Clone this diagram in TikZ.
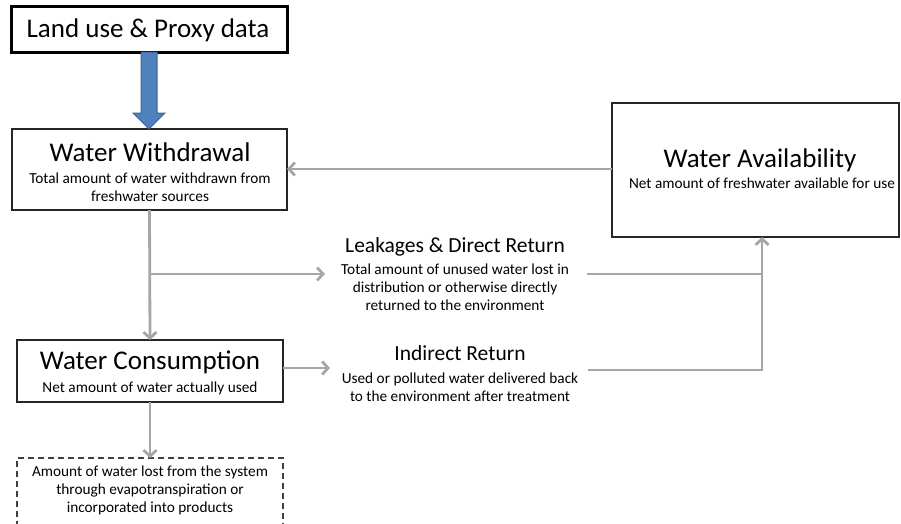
\documentclass[tikz,border=0pt]{standalone}
\usepackage{fontspec}
\setmainfont{Carlito}
\usetikzlibrary{arrows.meta,calc}
\definecolor{flow}{HTML}{A6A6A6}
\definecolor{blu}{HTML}{4F81BD}
\definecolor{bluedge}{HTML}{3A6596}
\newcommand{\ttlfont}{\fontsize{27}{32}\selectfont}
\newcommand{\midfont}{\fontsize{21.5}{26}\selectfont}
\newcommand{\smlfont}{\fontsize{15.3}{18}\selectfont}
\begin{document}
\begin{tikzpicture}[x=1pt,y=-1pt,
  box/.style={draw=black!85, line width=1.5pt, fill=white, inner sep=0pt, outer sep=0pt, anchor=north west},
  heavybox/.style={box, line width=3pt, draw=black},
  dashbox/.style={box, dash pattern=on 6pt off 4pt, line width=1.3pt, draw=black!75},
  ttl/.style={font=\ttlfont, inner sep=0pt},
  mid/.style={font=\midfont, inner sep=0pt},
  sml/.style={font=\smlfont, align=center, inner sep=0pt},
  flowline/.style={draw=flow, line width=2.8pt},
  flowarrow/.style={flowline, -{Straight Barb[length=6pt,width=13pt]}}
]
\useasboundingbox (0,0) rectangle (901,523);
\begin{scope}
\clip (0,0) rectangle (901,523);
% boxes
\node[heavybox, minimum width=276pt, minimum height=46pt] (land) at (11,6) {};
\node[box, minimum width=275pt, minimum height=81pt] (ww) at (12,129) {};
\node[box, minimum width=287pt, minimum height=134pt] (wa) at (612,103) {};
\node[box, minimum width=266pt, minimum height=62pt] (wc) at (17,340) {};
\node[dashbox, minimum width=266pt, minimum height=75pt] (lost) at (17,458) {};
\end{scope}
% texts
\node[ttl] (landT) at (148,30) {Land use \& Proxy data};
\node[ttl] (wwT) at (150,152) {Water Withdrawal};
\node[sml] (wwS) at (150,187) {Total amount of water withdrawn from\\freshwater sources};
\node[ttl] (waT) at (760,160) {Water Availability};
\node[sml] (waS) at (762,183) {Net amount of freshwater available for use};
\node[mid] (lkT) at (455,247) {Leakages \& Direct Return};
\node[sml] (lkS) at (455,287) {Total amount of unused water lost in\\distribution or otherwise directly\\returned to the environment};
\node[ttl] (wcT) at (150,362) {Water Consumption};
\node[sml] (wcS) at (150,388) {Net amount of water actually used};
\node[mid] (irT) at (460,353) {Indirect Return};
\node[sml] (irS) at (460,387) {Used or polluted water delivered back\\to the environment after treatment};
\node[sml] (lostS) at (150,490) {Amount of water lost from the system\\through evapotranspiration or\\incorporated into products};
% blue arrow
\coordinate (bA) at (land.south);
\filldraw[fill=blu, draw=bluedge, line width=1pt]
  ($(bA)+(-8,0)$) -- ($(bA)+(8,0)$) -- ($(bA)+(8,61)$) -- ($(bA)+(16,61)$)
  -- ($(bA)+(0,77)$) -- ($(bA)+(-16,61)$) -- ($(bA)+(-8,61)$) -- cycle;
% flows
\coordinate (waIn) at (wa.west |- 0,169);
\coordinate (wwIn) at (ww.east |- 0,169);
\draw[flowarrow] (waIn) -- (wwIn);
\coordinate (split) at (150,274);
\coordinate (lkIn) at (325,274);
\coordinate (lkOut) at (587,274);
\coordinate (col) at (762,274);
\coordinate (waBot) at (wa.south -| col);
\draw[flowarrow] (ww.south) -- (wc.north);
\draw[flowarrow] (split) -- (lkIn);
\coordinate (wcOut) at (wc.east |- 0,368);
\coordinate (irIn) at (330,368);
\draw[flowarrow] (wcOut) -- (irIn);
\coordinate (irOut) at (588,370);
\coordinate (colLow) at (762,370);
\draw[flowline, line join=miter] (irOut) -- (colLow) -- (col);
\draw[flowline] (lkOut) -- (col);
\draw[flowarrow] (col) -- (waBot);
\draw[flowarrow] (wc.south) -- (lost.north);
\end{tikzpicture}
\end{document}
